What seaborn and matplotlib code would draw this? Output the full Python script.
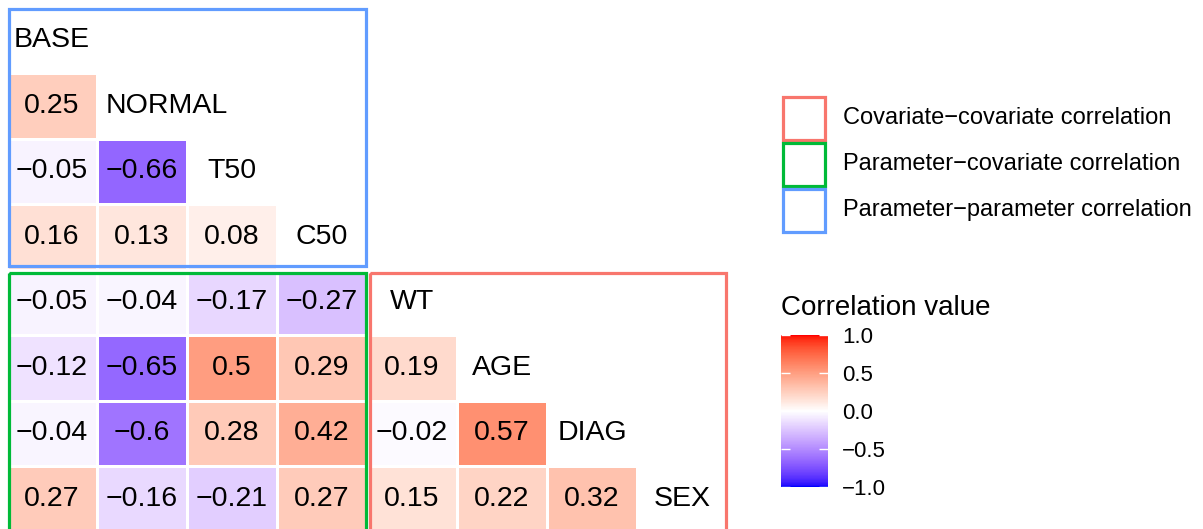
import numpy as np
import pandas as pd
import matplotlib
matplotlib.use("Agg")
import matplotlib.pyplot as plt
import seaborn as sns
from matplotlib.colors import ListedColormap, Normalize
from matplotlib.patches import Rectangle
from matplotlib.cm import ScalarMappable

# ---------------- data ----------------
variables = ["BASE", "NORMAL", "T50", "C50", "WT", "AGE", "DIAG", "SEX"]
row_base = []
row_normal = [0.25]
row_t50 = [-0.05, -0.66]
row_c50 = [0.16, 0.13, 0.08]
row_wt = [-0.05, -0.04, -0.17, -0.27]
row_age = [-0.12, -0.65, 0.5, 0.29, 0.19]
row_diag = [-0.04, -0.6, 0.28, 0.42, -0.02, 0.57]
row_sex = [0.27, -0.16, -0.21, 0.27, 0.15, 0.22, 0.32]
lower_rows = [row_base, row_normal, row_t50, row_c50, row_wt, row_age, row_diag, row_sex]

legend_labels = ["Covariate\u2212covariate correlation",
                 "Parameter\u2212covariate correlation",
                 "Parameter\u2212parameter correlation"]
legend_colors = ["#F8766D", "#00BA38", "#619CFF"]
cbar_ticks = [-1.0, -0.5, 0.0, 0.5, 1.0]

# ---------------- build matrix ----------------
n = len(variables)
corr = np.full((n, n), np.nan)
for i, row in enumerate(lower_rows):
    corr[i, :len(row)] = row
df = pd.DataFrame(corr, index=variables, columns=variables)
mask = np.triu(np.ones((n, n), dtype=bool))


def fmt_val(v):
    if np.isnan(v):
        return ""
    return f"{v:g}".replace("-", "\u2212")


annot = np.array([[fmt_val(v) for v in r] for r in corr], dtype=object)

# ---------------- colormap (Lab interpolation like ggplot gradient2) ----------------
M = np.array([[0.4124564, 0.3575761, 0.1804375],
              [0.2126729, 0.7151522, 0.0721750],
              [0.0193339, 0.1191920, 0.9503041]])
Minv = np.linalg.inv(M)
WHITE = M @ np.ones(3)


def _lin(c):
    c = np.asarray(c, float)
    return np.where(c <= 0.04045, c / 12.92, ((c + 0.055) / 1.055) ** 2.4)


def _gam(c):
    c = np.clip(c, 0, 1)
    return np.where(c <= 0.0031308, 12.92 * c, 1.055 * np.power(c, 1 / 2.4) - 0.055)


def rgb2lab(rgb):
    xyz = M @ _lin(rgb)
    t = xyz / WHITE
    d = 6 / 29
    f = np.where(t > d ** 3, np.cbrt(t), t / (3 * d * d) + 4 / 29)
    return np.array([116 * f[1] - 16, 500 * (f[0] - f[1]), 200 * (f[1] - f[2])])


def lab2rgb(lab):
    L, a, b = lab
    fy = (L + 16) / 116
    fx = fy + a / 500
    fz = fy - b / 200
    d = 6 / 29
    f = np.array([fx, fy, fz])
    t = np.where(f > d, f ** 3, 3 * d * d * (f - 4 / 29))
    xyz = WHITE * t
    return _gam(Minv @ xyz)


lab_w = rgb2lab([1, 1, 1])
lab_b = rgb2lab([0, 0, 1])
lab_r = rgb2lab([1, 0, 0])
cols = []
for t in np.linspace(-1, 1, 256):
    if t < 0:
        lab = lab_w + (-t) * (lab_b - lab_w)
    else:
        lab = lab_w + t * (lab_r - lab_w)
    cols.append(lab2rgb(lab))
cmap = ListedColormap(np.clip(np.array(cols), 0, 1))

# ---------------- figure ----------------
plt.rcParams["font.family"] = ["Liberation Sans", "DejaVu Sans"]
W, H = 1203, 529
fig = plt.figure(figsize=(W / 100, H / 100), dpi=100)
fig.patch.set_facecolor("white")

left, top, cw, ch = 7, 7.5, 90, 65.5
ax = fig.add_axes([left / W, 1 - (top + n * ch) / H, n * cw / W, n * ch / H])
sns.heatmap(df, mask=mask, cmap=cmap, vmin=-1, vmax=1, annot=annot, fmt="",
            annot_kws=dict(size=20.5, color="black"),
            linewidths=1, linecolor="white", cbar=False,
            xticklabels=False, yticklabels=False, ax=ax)
ax.set_xlabel("")
ax.set_ylabel("")
ax.tick_params(length=0)
for s in ax.spines.values():
    s.set_visible(False)

label_dx = {"NORMAL": 0.28}
for i, name in enumerate(variables):
    ax.text(i + 0.5 + label_dx.get(name, 0), i + 0.5, name, ha="center", va="center",
            size=20.5, color="black")

lw = 2.3
boxes = [
    ((0.02, 0.02), 3.965, 3.93, legend_colors[2]),
    ((0.02, 4.05), 3.965, 4.1, legend_colors[1]),
    ((4.035, 4.05), 3.95, 4.1, legend_colors[0]),
]
for (x0, y0), w, h, c in boxes:
    ax.add_patch(Rectangle((x0, y0), w, h, fill=False, edgecolor=c, lw=lw, clip_on=False, zorder=5))

# ---------------- box legend ----------------
lg = fig.add_axes([0, 0, 1, 1])
lg.set_xlim(0, W)
lg.set_ylim(H, 0)
lg.axis("off")
lg.patch.set_alpha(0)
for k, (lab, c) in enumerate(zip(legend_labels, legend_colors)):
    y0 = 96.7 + k * 45.9
    lg.add_patch(Rectangle((783.4, y0), 41.8, 43.0, fill=False, edgecolor=c, lw=lw))
    lg.text(843, y0 + 21.5, lab, ha="left", va="center", size=17, color="black")

lg.text(781, 315, "Correlation value", ha="left", va="baseline", size=20, color="black")

# ---------------- colorbar ----------------
cax = fig.add_axes([781 / W, 1 - 487 / H, 47 / W, 152 / H])
sm = ScalarMappable(norm=Normalize(-1, 1), cmap=cmap)
cb = fig.colorbar(sm, cax=cax, ticks=cbar_ticks)
cb.outline.set_visible(False)
cax.tick_params(length=0, pad=10, labelsize=16)
cax.set_yticklabels([f"{v:.1f}".replace("-", "\u2212") for v in cbar_ticks])
for v in cbar_ticks:
    cax.plot([0, 0.2], [v, v], color="white", lw=1, solid_capstyle="butt")
    cax.plot([0.8, 1.0], [v, v], color="white", lw=1, solid_capstyle="butt")
cax.set_xlim(0, 1)
cax.set_ylim(-1, 1)

fig.savefig("out.png", dpi=100, facecolor="white")
